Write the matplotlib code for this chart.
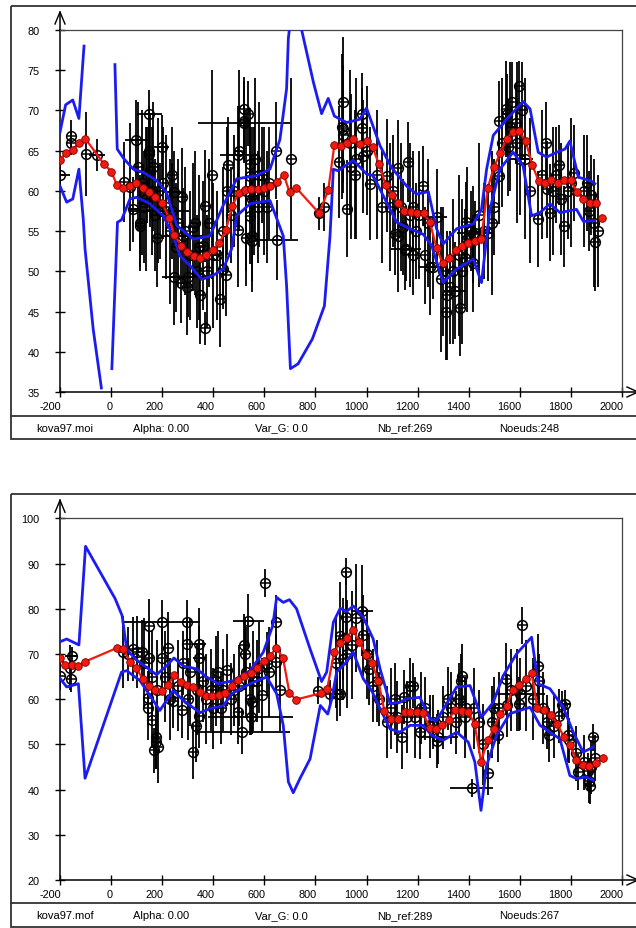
import numpy as np
import matplotlib
matplotlib.use("Agg")
import matplotlib.pyplot as plt
import matplotlib.transforms as mtransforms
from matplotlib.patches import Rectangle

plt.rcParams['font.family'] = ['Liberation Sans', 'DejaVu Sans']
plt.rcParams['axes.unicode_minus'] = False

W, H = 636, 929
nan = np.nan

# ---------------- top panel (kova97.moi) ----------------
top_obs_x = [-200, -158, -158, -98, -55, 51, 85, 98, 113, 113, 130, 140, 150, 150, 150, 152, 160, 170, 178, 190,
             198, 205, 240, 240, 246, 246, 260, 272, 279, 280, 296, 300, 320, 335, 348, 358, 368, 368, 385, 400,
             426, 437, 450, 459, 470, 480, 498, 498, 520, 522, 522, 528, 537, 544, 544, 544, 550, 550, 560, 575,
             590, 609, 646, 648, 815, 835, 893, 907, 909, 909, 925, 940, 955, 981, 983, 987, 1013, 1040, 1060, 1079,
             1110, 1124, 1124, 1142, 1150, 1155, 1163, 1180, 1183, 1193, 1220, 1230, 1248, 1261, 1274, 1300, 1310, 1325, 1347, 1365,
             1385, 1389, 1410, 1418, 1418, 1424, 1460, 1477, 1500, 1520, 1520, 1546, 1548, 1555, 1570, 1585, 1598, 1600, 1610, 1672,
             1701, 1705, 1718, 1740, 1753, 1774, 1790, 1812, 1864, 1872, 1880, 1894,
             75, 105, 120, 135, 165, 185, 215, 230, 255, 290, 310, 330, 345, 375, 396, 415, 440, 455, 502, 530,
             553, 565, 580, 600, 620, 706, 903, 935, 960, 1000, 1090, 1105, 1135, 1170, 1205, 1240, 1290, 1315, 1340, 1360,
             1375, 1395, 1440, 1490, 1530, 1560, 1590, 1620, 1640, 1685, 1730, 1760, 1800, 1850, 1890, 1905]
top_obs_y = [62.0, 66.8, 65.9, 64.6, 64.5, 61.1, 57.7, 66.3, 56.0, 55.6, 58.0, 62.0, 69.5, 65.0, 64.6, 62.5, 60.0, 57.0, 54.1, 57.5,
             65.4, 61.0, 57.5, 62.0, 59.9, 49.3, 56.0, 48.6, 59.3, 54.4, 48.1, 49.3, 55.5, 50.0, 47.0, 53.2, 42.9, 58.1, 56.0, 52.0,
             46.6, 50.3, 49.5, 63.2, 57.0, 60.0, 64.5, 55.1, 68.5, 70.2, 68.7, 54.2, 69.6, 63.3, 61.9, 56.9, 54.4, 53.8, 60.0, 58.0,
             62.0, 58.0, 65.0, 53.9, 57.2, 58.0, 63.6, 67.7, 71.1, 67.0, 57.8, 63.0, 62.0, 69.6, 67.8, 64.3, 60.9, 62.0, 58.0, 61.9,
             54.6, 62.8, 54.4, 55.5, 52.7, 52.8, 63.6, 52.0, 58.0, 55.0, 60.6, 52.0, 50.6, 50.6, 56.7, 50.0, 45.0, 48.0, 47.6, 45.5,
             51.7, 56.1, 55.0, 51.0, 54.6, 54.8, 55.0, 54.8, 58.0, 68.7, 61.9, 70.2, 69.5, 65.4, 71.0, 68.4, 73.1, 64.0, 70.0, 56.5,
             66.0, 60.2, 57.3, 62.0, 63.2, 55.6, 60.0, 62.2, 61.0, 57.5, 59.5, 53.6,
             60.5, 63.0, 61.0, 59.0, 63.0, 60.0, 58.0, 55.0, 53.0, 55.0, 52.0, 56.0, 53.0, 50.0, 62.0, 52.0, 55.0, 60.0, 65.0, 60.0,
             59.0, 64.0, 62.0, 60.0, 61.0, 64.0, 68.0, 66.0, 64.0, 65.0, 58.0, 60.0, 58.0, 57.0, 57.0, 56.0, 49.0, 47.0, 50.0, 52.0,
             50.0, 54.0, 57.0, 56.0, 66.0, 68.0, 66.0, 64.0, 60.0, 62.0, 60.0, 59.0, 61.0, 60.0, 56.0, 55.0]
top_obs_dy = [1.5, 2, 1.5, 5.2, 2, 5, 4, 5, 6, 5, 7, 6, 3, 5, 6, 7, 8, 7, 6, 6,
              4, 7, 6, 6, 5, 6, 8, 5, 6, 6, 6, 5, 8, 7, 6, 8, 2, 7, 8, 9,
              6, 5, 5, 6, 6, 7, 6, 7, 5, 4, 5, 6, 4, 7, 6, 6, 7, 5, 8, 7,
              6, 7, 6, 5, 2, 3, 7, 8, 8, 6, 6, 9, 8, 5, 5, 7, 7, 8, 7, 7,
              5, 6, 7, 6, 5, 4, 5, 5, 7, 6, 5, 6, 6, 4, 6, 8, 6, 7, 6, 6,
              6, 5, 5, 6, 6, 4, 6, 6, 6, 5, 6, 6, 5, 6, 5, 5, 3, 7, 6, 6,
              5, 6, 6, 6, 5, 5, 6, 6, 6, 5, 5, 6,
              8, 8, 9, 9, 8, 9, 9, 9, 8, 8, 8, 9, 9, 7, 13, 8, 8, 8, 10, 10,
              9, 10, 9, 8, 7, 10, 9, 9, 10, 8, 8, 7, 8, 9, 8, 8, 9, 8, 9, 10,
              9, 9, 9, 9, 8, 8, 10, 10, 9, 8, 8, 7, 8, 7, 8, 7]
top_obs_dx = [40, 0, 0, 0, 30, 0, 20, 45, 0, 0, 0, 0, 49, 0, 0, 0, 0, 0, 0, 115,
              30, 0, 0, 0, 40, 0, 0, 0, 0, 80, 0, 100, 0, 0, 0, 0, 0, 0, 0, 0,
              0, 0, 0, 0, 0, 0, 72, 0, 180, 0, 0, 0, 0, 0, 0, 0, 0, 0, 0, 0,
              0, 0, 0, 85, 0, 0, 0, 0, 0, 0, 0, 0, 0, 0, 0, 0, 0, 0, 0, 0,
              0, 0, 0, 0, 0, 58, 0, 0, 0, 0, 0, 0, 0, 59, 40, 0, 0, 0, 43, 0,
              0, 0, 0, 0, 0, 71, 0, 0, 0, 0, 0, 0, 0, 0, 0, 0, 0, 52, 0, 0,
              0, 0, 0, 0, 0, 0, 0, 0, 0, 0, 0, 0,
              0, 0, 0, 0, 0, 0, 0, 0, 0, 0, 0, 0, 0, 0, 0, 0, 0, 0, 0, 0,
              0, 0, 0, 0, 0, 0, 0, 0, 0, 0, 0, 0, 0, 0, 0, 0, 0, 0, 0, 0,
              0, 0, 0, 0, 0, 0, 0, 0, 0, 0, 0, 0, 0, 0, 0, 0]

top_node_x = [-200, -176, -150, -126, -101, -27, 1, 23, 48, 73, 99, 124, 148, 173, 200, 227, 248, 275, 299, 324,
              348, 373, 398, 424, 450, 474, 499, 524, 549, 574, 599, 623, 648, 676, 699, 724, 815, 850, 874, 899,
              923, 948, 974, 1000, 1024, 1049, 1075, 1100, 1124, 1148, 1174, 1199, 1223, 1248, 1274, 1298, 1324, 1349, 1374, 1398,
              1423, 1449, 1474, 1499, 1524, 1548, 1573, 1598, 1623, 1649, 1674, 1699, 1723, 1748, 1774, 1799, 1824, 1849, 1873, 1898,
              1922]
top_node_y = [63.9, 64.7, 65.1, 65.9, 66.5, 63.3, 62.4, 60.7, 60.3, 60.6, 61.0, 60.4, 59.9, 59.2, 58.5, 56.6, 54.5, 53.2, 52.4, 51.9,
              51.7, 52.0, 52.7, 53.5, 55.2, 58.1, 59.7, 60.1, 60.2, 60.2, 60.4, 60.6, 61.1, 62.0, 59.8, 60.4, 57.2, 60.1, 65.7, 65.6,
              65.9, 66.4, 65.8, 66.2, 65.4, 63.3, 60.7, 59.5, 58.5, 57.5, 57.4, 57.3, 57.2, 56.1, 52.9, 51.0, 51.7, 52.6, 53.1, 53.5,
              53.8, 54.0, 60.3, 63.0, 64.7, 66.5, 67.3, 67.4, 66.2, 63.2, 61.2, 61.0, 61.4, 61.0, 61.3, 61.3, 59.8, 59.0, 58.5, 58.5,
              56.6]

top_up_x = [-200, -178, -150, -126, -106, nan, 15, 24, 50, 87, 126, 178, 217, 257, 322, 387, 439, 492, 570, 622,
            661, 687, 694, 720, 746, 792, 824, 850, 874, 922, 974, 1000, 1053, 1098, 1157, 1196, 1242, 1274, 1300, 1353,
            1418, 1450, 1470, 1496, 1548, 1613, 1640, 1672, 1705, 1744, 1777, 1796, 1829, 1875, 1894]
top_up_y = [67.3, 70.7, 71.3, 69.0, 78.0, nan, 75.7, 65.2, 64.0, 62.7, 62.3, 61.3, 59.8, 55.7, 54.0, 54.4, 58.2, 61.5, 61.9, 62.7,
            66.4, 72.7, 79.0, 86.0, 80.0, 73.5, 69.6, 71.5, 69.3, 68.5, 68.9, 70.3, 65.6, 62.9, 60.6, 59.6, 59.9, 55.3, 53.4, 55.3,
            55.9, 57.7, 62.7, 66.9, 68.9, 71.1, 70.2, 64.8, 64.2, 64.8, 65.2, 66.2, 61.7, 61.3, 60.9]

top_lo_x = [-200, -174, -150, -126, -109, -102, -70, -38, nan, 3, 25, 41, 74, 100, 152, 204, 244, 270, 309, 355,
            400, 439, 472, 492, 544, 622, 674, 687, 702, 732, 788, 835, 857, 870, 889, 948, 1000, 1026, 1078, 1118,
            1170, 1222, 1255, 1300, 1353, 1418, 1450, 1483, 1522, 1574, 1613, 1646, 1679, 1718, 1757, 1790, 1822, 1849, 1894]
top_lo_y = [60.6, 58.6, 59.0, 62.7, 56.5, 52.8, 42.8, 35.5, nan, 37.9, 56.1, 56.4, 59.0, 59.2, 58.4, 56.9, 54.4, 51.9, 50.7, 49.0,
            49.5, 50.3, 52.8, 56.9, 58.4, 58.8, 54.4, 48.2, 37.9, 38.5, 41.6, 45.7, 54.4, 62.7, 62.5, 63.8, 62.1, 61.9, 58.6, 56.1,
            55.3, 54.6, 53.2, 48.6, 50.3, 51.5, 48.6, 57.7, 62.7, 64.8, 63.1, 56.9, 57.3, 58.4, 57.3, 57.5, 57.7, 56.2, 56.3]

top_yticks = [35, 40, 45, 50, 55, 60, 65, 70, 75, 80]
top_info = ["kova97.moi", "Alpha: 0.00", "Var_G: 0.0", "Nb_ref:269", "Noeuds:248"]

# ---------------- bottom panel (kova97.mof) ----------------
bot_obs_x = [-200, -160, -158, -154, 45, 68, 84, 100, 120, 146, 146, 150, 150, 159, 168, 176, 176, 185, 198, 198,
             224, 243, 276, 280, 296, 296, 319, 332, 345, 345, 345, 360, 390, 420, 430, 452, 480, 498, 514, 520,
             524, 537, 544, 546, 550, 570, 590, 604, 609, 646, 646, 811, 857, 884, 896, 907, 909, 920, 920, 981,
             987, 1011, 1024, 1050, 1080, 1113, 1137, 1145, 1160, 1172, 1182, 1209, 1230, 1260, 1274, 1280, 1320, 1350, 1368, 1372,
             1390, 1411, 1440, 1477, 1500, 1516, 1546, 1550, 1598, 1601, 1607, 1672, 1677, 1705, 1714, 1755, 1765, 1777, 1794, 1829,
             1866, 1872, 1876, 1888, 1894,
             130, 160, 180, 210, 230, 260, 300, 310, 335, 370, 400, 410, 440, 470, 500, 530, 555, 580, 620, 660,
             880, 895, 925, 945, 960, 1000, 1040, 1095, 1120, 1190, 1215, 1250, 1300, 1330, 1360, 1385, 1420, 1455, 1490, 1520,
             1565, 1590, 1625, 1650, 1690, 1735, 1790, 1820, 1850, 1880]
bot_obs_y = [65.1, 67.0, 64.5, 69.5, 70.5, 70.0, 71.1, 70.4, 70.4, 60.2, 58.0, 76.1, 69.1, 55.3, 48.7, 51.6, 50.5, 49.5, 77.0, 69.1,
             71.3, 59.7, 57.5, 68.0, 77.0, 72.2, 48.4, 54.0, 72.2, 69.1, 56.2, 64.0, 62.0, 66.0, 58.0, 66.5, 62.0, 57.1, 52.8, 71.9,
             70.0, 77.2, 60.1, 56.0, 59.4, 64.0, 61.0, 85.7, 67.8, 77.0, 68.3, 61.9, 61.2, 61.2, 61.2, 68.9, 73.3, 88.2, 78.1, 79.6,
             74.1, 66.7, 63.0, 60.0, 55.0, 60.1, 51.6, 60.4, 56.0, 63.0, 63.0, 52.7, 58.0, 55.0, 50.7, 51.6, 60.1, 54.9, 64.0, 65.2,
             58.0, 40.3, 55.0, 43.7, 58.0, 52.0, 64.5, 58.6, 59.0, 61.2, 76.3, 67.4, 64.0, 54.9, 52.0, 56.3, 58.7, 59.0, 50.9, 43.9,
             44.0, 42.0, 40.9, 51.6, 47.0,
             68.0, 65.0, 62.0, 65.0, 60.0, 63.0, 60.0, 66.0, 62.0, 60.0, 58.0, 64.0, 62.0, 60.0, 63.0, 66.0, 64.0, 67.0, 66.0, 62.0,
             68.0, 74.0, 70.0, 72.0, 78.0, 70.0, 64.0, 58.0, 56.0, 56.0, 58.0, 54.0, 56.0, 58.0, 60.0, 56.0, 58.0, 50.0, 55.0, 58.0,
             62.0, 62.0, 63.0, 60.0, 58.0, 54.0, 52.0, 48.0, 46.0, 45.0]
bot_obs_dy = [3, 5, 3, 2, 8, 6, 7, 8, 7, 6, 7, 6, 6, 6, 5, 7, 6, 8, 5, 7,
              8, 6, 6, 7, 5, 6, 6, 8, 8, 7, 7, 9, 9, 9, 8, 8, 8, 7, 5, 7,
              8, 6, 8, 4, 7, 9, 8, 3, 7, 6, 6, 3, 3, 6, 5, 9, 9, 3, 10, 10,
              9, 8, 8, 6, 8, 8, 7, 6, 8, 6, 5, 6, 7, 6, 6, 6, 7, 7, 6, 7,
              7, 2, 7, 5, 7, 6, 8, 7, 6, 8, 4, 7, 6, 6, 6, 6, 3, 3, 5, 4,
              4, 5, 4, 3, 5,
              10, 10, 11, 10, 9, 10, 9, 12, 10, 10, 9, 10, 9, 8, 9, 10, 11, 10, 10, 9,
              10, 12, 12, 12, 12, 10, 9, 9, 8, 9, 8, 7, 7, 8, 8, 9, 9, 9, 8, 8,
              9, 9, 10, 9, 8, 7, 6, 6, 6, 6]
bot_obs_dx = [0, 0, 0, 25, 0, 0, 0, 0, 0, 0, 0, 0, 0, 0, 0, 0, 0, 0, 150, 0,
              0, 0, 0, 0, 0, 0, 0, 0, 25, 25, 0, 0, 0, 0, 0, 0, 0, 0, 186, 0,
              0, 60, 0, 165, 0, 0, 0, 0, 0, 0, 0, 0, 0, 0, 0, 0, 0, 0, 0, 43,
              0, 0, 0, 0, 0, 0, 0, 0, 0, 0, 0, 0, 0, 0, 0, 78, 0, 0, 0, 0,
              0, 85, 0, 0, 0, 0, 0, 0, 0, 98, 0, 0, 0, 0, 0, 0, 0, 20, 0, 0,
              0, 0, 0, 0, 0,
              0, 0, 0, 0, 0, 0, 0, 0, 0, 0, 0, 0, 0, 0, 0, 0, 0, 0, 0, 0,
              0, 0, 0, 0, 0, 0, 0, 0, 0, 0, 0, 0, 0, 0, 0, 0, 0, 0, 0, 0,
              0, 0, 0, 0, 0, 0, 0, 0, 0, 0]

bot_node_x = [-200, -179, -154, -128, -102, 22, 48, 74, 98, 124, 147, 172, 198, 224, 248, 272, 296, 322, 348, 371,
              396, 421, 446, 472, 497, 521, 546, 572, 597, 622, 647, 673, 698, 723, 821, 846, 873, 897, 922, 946,
              972, 998, 1021, 1046, 1070, 1097, 1125, 1149, 1172, 1196, 1221, 1248, 1272, 1296, 1321, 1347, 1372, 1399, 1423, 1448,
              1474, 1498, 1523, 1548, 1572, 1596, 1623, 1646, 1669, 1696, 1722, 1747, 1772, 1796, 1821, 1847, 1872, 1898, 1925]
bot_node_y = [69.1, 67.6, 67.6, 67.4, 68.3, 71.3, 71.1, 68.2, 66.9, 64.5, 62.9, 62.1, 61.8, 63.2, 65.4, 63.9, 63.2, 62.6, 61.6, 60.8,
              60.7, 61.0, 61.3, 62.9, 64.3, 65.1, 65.8, 66.9, 68.4, 69.6, 71.3, 69.1, 61.4, 59.9, 61.3, 62.3, 70.4, 72.5, 73.6, 75.4,
              72.7, 69.8, 68.0, 64.1, 57.3, 55.6, 55.6, 57.1, 57.1, 57.1, 57.0, 53.6, 53.4, 54.3, 55.4, 57.7, 57.3, 57.1, 54.5, 46.2,
              50.9, 53.4, 56.8, 58.5, 62.1, 63.2, 64.5, 65.7, 58.0, 57.7, 56.5, 54.5, 51.7, 49.9, 46.6, 45.5, 45.3, 45.8, 47.0]

bot_up_x = [-200, -174, -126, -100, -43, 16, 43, 61, 94, 178, 217, 246, 283, 335, 374, 420, 479, 544, 596, 633,
            648, 674, 698, 726, 779, 824, 844, 870, 897, 922, 948, 987, 1026, 1053, 1092, 1131, 1157, 1209, 1248, 1274,
            1353, 1405, 1450, 1496, 1535, 1587, 1646, 1672, 1718, 1770, 1809, 1848, 1888]
bot_up_y = [72.7, 73.3, 72.0, 93.8, 88.1, 82.2, 78.5, 71.1, 68.9, 65.4, 67.4, 69.1, 67.3, 66.7, 64.9, 63.4, 64.1, 66.3, 70.4, 76.3,
            82.5, 81.4, 82.0, 80.0, 71.1, 63.9, 66.0, 77.0, 80.1, 79.4, 80.6, 78.1, 73.3, 66.7, 59.0, 59.3, 60.1, 60.4, 55.6, 55.3,
            62.7, 63.0, 56.0, 59.3, 65.2, 70.0, 73.7, 63.4, 62.3, 58.2, 52.7, 48.3, 49.4]

bot_lo_x = [-200, -174, -128, -102, 41, 61, 113, 152, 191, 243, 283, 348, 387, 439, 472, 544, 609, 648, 674, 694,
            713, 739, 779, 819, 848, 864, 883, 915, 948, 987, 1020, 1053, 1092, 1131, 1170, 1222, 1255, 1300, 1353, 1398,
            1424, 1448, 1470, 1509, 1561, 1640, 1679, 1718, 1757, 1796, 1822, 1861, 1888]
bot_lo_y = [64.6, 62.7, 63.4, 42.5, 66.0, 66.3, 64.1, 60.8, 57.5, 61.9, 59.7, 57.0, 57.9, 58.5, 61.2, 63.4, 64.9, 61.2, 54.2, 41.7,
            39.3, 42.4, 46.8, 58.6, 56.7, 60.1, 66.0, 67.8, 70.4, 64.5, 61.9, 57.9, 53.4, 52.7, 54.2, 54.2, 52.0, 50.9, 52.7, 50.5,
            46.1, 35.4, 45.3, 52.0, 56.8, 58.2, 54.2, 52.7, 51.2, 43.1, 42.4, 42.8, 42.0]

bot_yticks = [20, 30, 40, 50, 60, 70, 80, 90, 100]
bot_info = ["kova97.mof", "Alpha: 0.00", "Var_G: 0.0", "Nb_ref:289", "Noeuds:267"]

x_ticks = list(range(-200, 2001, 200))
info_x = [36, 133, 255, 377, 499]

BLUE = '#1c1cf2'
RED = '#f21a0e'


def px_rect(left, top, right, bottom):
    return [left / W, 1 - bottom / H, (right - left) / W, (bottom - top) / H]


fig = plt.figure(figsize=(W / 100, H / 100), dpi=100)

# overlay in pixel coordinates for frames, arrows and the info line
ov = fig.add_axes([0, 0, 1, 1])
ov.set_xlim(0, W)
ov.set_ylim(H, 0)
ov.axis('off')

# x tick labels sit just left of their tick, as in the original program
xlab_shift = mtransforms.ScaledTranslation(1.5 / 100, 0, fig.dpi_scale_trans)


def panel(top, bot, ylim, yticks, obs, node, up, lo, info, frame, sep, join_last):
    ax = fig.add_axes(px_rect(60, top, 622, bot))
    ax.set_xlim(-200, 2000)
    ax.set_ylim(*ylim)
    ax.set_xticks(x_ticks)
    ax.set_yticks(yticks)
    ax.tick_params(direction='inout', length=7.5, width=1.0, labelsize=7.8, colors='black')
    ax.tick_params(axis='y', pad=11)
    ax.tick_params(axis='x', pad=2.5)
    for lab in ax.get_xticklabels():
        lab.set_horizontalalignment('right')
        lab.set_transform(lab.get_transform() + xlab_shift)
    for s in ['left', 'bottom']:
        ax.spines[s].set_linewidth(1.1)
        ax.spines[s].set_color('black')
    for s in ['top', 'right']:
        ax.spines[s].set_linewidth(0.9)
        ax.spines[s].set_color('#444444')

    ox, oy, ody, odx = obs
    ax.errorbar(ox, oy, yerr=ody, xerr=odx, fmt='none', ecolor='black',
                elinewidth=1.3, capsize=0, zorder=2)
    ax.plot(ox, oy, 'o', ms=7, mfc='none', mec='black', mew=1.1, zorder=3)
    ax.plot(ox, oy, '_', ms=7, mec='black', mew=1.1, zorder=3)

    ax.plot(up[0], up[1], color=BLUE, lw=2.0, zorder=4)
    ax.plot(lo[0], lo[1], color=BLUE, lw=2.0, zorder=4)

    nx, ny = node
    if join_last:
        ax.plot(nx, ny, color=RED, lw=1.6, zorder=5)
    else:
        ax.plot(nx[:-1], ny[:-1], color=RED, lw=1.6, zorder=5)
    ax.plot(nx, ny, 'o', ms=5.5, mfc=RED, mec='#7a0000', mew=0.6, zorder=6)

    # axis arrows
    ov.plot([60, 60], [top, top - 18], color='black', lw=1.1)
    ov.plot([55, 60, 65], [top - 6, top - 18, top - 6], color='black', lw=1.0)
    ov.plot([622, 638], [bot, bot], color='black', lw=1.1)
    ov.plot([627, 638, 627], [bot - 5, bot, bot + 5], color='black', lw=1.0)

    # frame and info line
    ov.add_patch(Rectangle((11, frame[0]), 640, frame[1] - frame[0], fill=False,
                           ec='#333333', lw=1.3))
    ov.plot([11, 651], [sep, sep], color='#333333', lw=1.3)
    ymid = (sep + frame[1]) / 2
    for t, xx in zip(info, info_x):
        ov.text(xx, ymid, t, fontsize=8, ha='left', va='center', color='black')
    return ax


panel(31, 393, (35, 80), top_yticks,
      (top_obs_x, top_obs_y, top_obs_dy, top_obs_dx),
      (top_node_x, top_node_y), (top_up_x, top_up_y), (top_lo_x, top_lo_y),
      top_info, (6.5, 440), 417, False)

panel(519.3, 881, (20, 100), bot_yticks,
      (bot_obs_x, bot_obs_y, bot_obs_dy, bot_obs_dx),
      (bot_node_x, bot_node_y), (bot_up_x, bot_up_y), (bot_lo_x, bot_lo_y),
      bot_info, (495, 927.5), 904, True)

fig.savefig('out.png', dpi=100)
